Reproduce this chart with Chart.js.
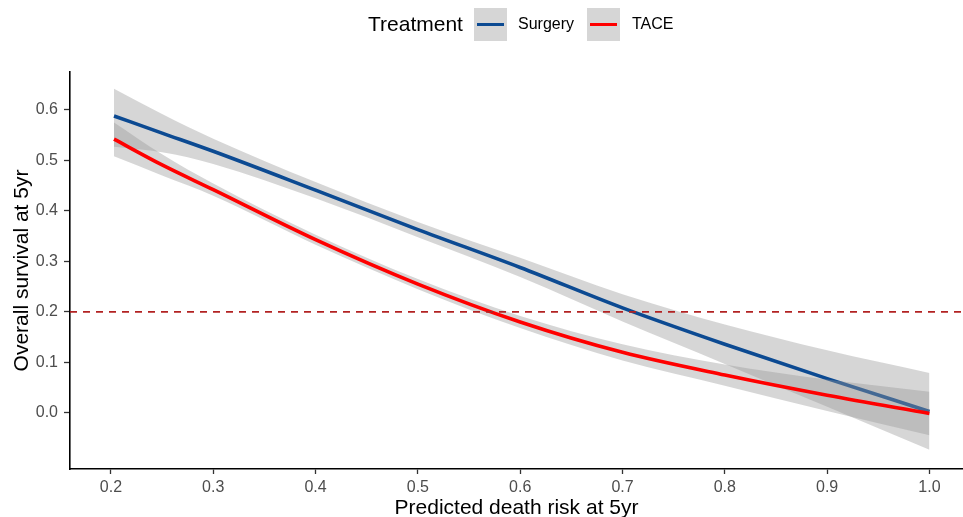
<!DOCTYPE html>
<html>
<head>
<meta charset="utf-8">
<script src="https://cdn.jsdelivr.net/npm/chart.js@4.4.1/dist/chart.umd.min.js"></script>
<style>
  body { margin: 0; background: #fff; font-family: "Liberation Sans", Arial, sans-serif; }
  #wrap { position: relative; width: 963px; height: 517px; }
  .leg { position: absolute; top: 1px; height: 46px; display: flex; align-items: center; }
  .key { width: 33px; height: 33px; background: #d6d6d6; position: relative; }
  .key span { position: absolute; left: 3px; right: 3px; top: 15px; height: 3.5px; }
</style>
</head>
<body>
<div id="wrap">
  <canvas id="myChart" width="963" height="517"></canvas>
  <div class="leg" style="left:368px; font-size:21px; color:#000;">Treatment</div>
  <div class="leg" style="left:474px;"><div class="key"><span style="background:#0c4a92"></span></div></div>
  <div class="leg" style="left:518px; font-size:16px; color:#000;">Surgery</div>
  <div class="leg" style="left:587px;"><div class="key"><span style="background:#ff0000"></span></div></div>
  <div class="leg" style="left:632px; font-size:16px; color:#000;">TACE</div>
</div>
<script>
// predicted death risk grid (x)
const risk = [0.203, 0.25, 0.3, 0.4, 0.5, 0.6, 0.7, 0.8, 0.9, 1.0];

// smoothed survival + confidence band
const surgery      = [0.588, 0.554, 0.518, 0.441, 0.363, 0.288, 0.208, 0.136, 0.068, 0.003];
const surgeryUpper = [0.642, 0.592, 0.543, 0.457, 0.378, 0.307, 0.235, 0.175, 0.124, 0.079];
const surgeryLower = [0.527, 0.516, 0.493, 0.425, 0.348, 0.269, 0.181, 0.097, 0.012, -0.073];

const tace      = [0.542, 0.491, 0.442, 0.343, 0.255, 0.180, 0.120, 0.075, 0.035, -0.001];
const taceUpper = [0.575, 0.512, 0.454, 0.353, 0.265, 0.192, 0.136, 0.096, 0.066, 0.042];
const taceLower = [0.508, 0.470, 0.430, 0.333, 0.245, 0.168, 0.104, 0.054, 0.004, -0.044];

const threshold = 0.2;
const xTicks = [0.2, 0.3, 0.4, 0.5, 0.6, 0.7, 0.8, 0.9, 1.0];
const yTicks = [0.0, 0.1, 0.2, 0.3, 0.4, 0.5, 0.6];
const xMin = 0.160, xMax = 1.0328;
const yMin = -0.111, yMax = 0.675;

function pts(ys) {
  return ys.map((y, i) => ({x: risk[i], y: y}));
}

const band = 'rgba(153,153,153,0.4)';
const noLine = {borderWidth: 0, pointRadius: 0, cubicInterpolationMode: 'monotone'};

const ctx = document.getElementById('myChart');
const chart = new Chart(ctx, {
  type: 'line',
  data: {
    datasets: [
      Object.assign({data: pts(surgeryUpper), fill: false, order: 5}, noLine),
      Object.assign({data: pts(surgeryLower), fill: '-1', backgroundColor: band, order: 5}, noLine),
      {data: pts(surgery), borderColor: '#0c4a92', borderWidth: 3.6, pointRadius: 0,
       cubicInterpolationMode: 'monotone', fill: false, order: 4},
      Object.assign({data: pts(taceUpper), fill: false, order: 3}, noLine),
      Object.assign({data: pts(taceLower), fill: '-1', backgroundColor: band, order: 3}, noLine),
      {data: pts(tace), borderColor: '#ff0000', borderWidth: 3.6, pointRadius: 0,
       cubicInterpolationMode: 'monotone', fill: false, order: 2},
      {data: [{x: xMin, y: threshold}, {x: xMax, y: threshold}], borderColor: '#b22222',
       borderWidth: 1.6, borderDash: [7, 6], pointRadius: 0, fill: false, order: 1}
    ]
  },
  options: {
    responsive: false,
    animation: false,
    events: [],
    layout: {padding: {left: 0, right: 0, top: 72, bottom: 0}},
    plugins: {legend: {display: false}, tooltip: {enabled: false}},
    scales: {
      x: {
        type: 'linear', min: xMin, max: xMax,
        afterBuildTicks: s => { s.ticks = xTicks.map(v => ({value: v})); },
        afterFit: s => { s.height = 48; },
        grid: {display: true, drawOnChartArea: false, drawTicks: true, tickLength: 5, tickColor: '#333', tickWidth: 1.3},
        border: {display: true, color: '#000', width: 1.6},
        ticks: {color: '#4d4d4d', font: {size: 16, family: 'Liberation Sans'}, padding: 4,
                maxRotation: 0, autoSkip: false, callback: v => v.toFixed(1)},
        title: {display: true, text: 'Predicted death risk at 5yr', color: '#000',
                font: {size: 21, family: 'Liberation Sans', lineHeight: 1}, padding: {top: 0, bottom: -2}}
      },
      y: {
        min: yMin, max: yMax,
        afterBuildTicks: s => { s.ticks = yTicks.map(v => ({value: v})); },
        afterFit: s => { s.width = 70; },
        grid: {display: true, drawOnChartArea: false, drawTicks: true, tickLength: 6, tickColor: '#333', tickWidth: 1.3},
        border: {display: true, color: '#000', width: 1.6},
        ticks: {color: '#4d4d4d', font: {size: 16, family: 'Liberation Sans'}, padding: 6,
                autoSkip: false, callback: v => v.toFixed(1)},
        title: {display: true, text: 'Overall survival at 5yr', color: '#000',
                font: {size: 21, family: 'Liberation Sans', lineHeight: 1}, padding: {top: 12, bottom: 0}}
      }
    }
  }
});
</script>
</body>
</html>
